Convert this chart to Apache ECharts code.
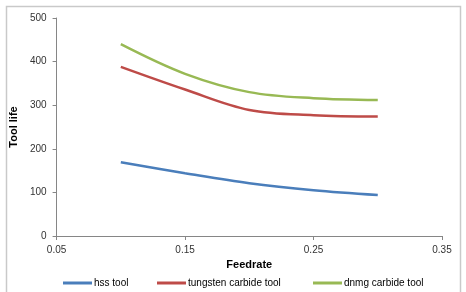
<!DOCTYPE html>
<html><head><meta charset="utf-8">
<script src="https://cdn.jsdelivr.net/npm/echarts@6/dist/echarts.min.js"></script>
<style>html,body{margin:0;padding:0;background:#fff}#c{width:466px;height:292px}</style>
</head><body><div id="c"></div>
<script>
const feedrate = [0.1, 0.15, 0.2, 0.25, 0.3];
const hss = [169, 144, 121, 105, 94];
const tungsten = [388, 336, 289, 277, 274];
const dnmg = [440, 372, 330, 316, 312];
const seriesNames = ['hss tool', 'tungsten carbide tool', 'dnmg carbide tool'];
const colors = ['#4A7EBB', '#BE4B48', '#98B954'];
const xTicks = [0.05, 0.15, 0.25, 0.35];
const yTicks = [0, 100, 200, 300, 400, 500];

const font = 'Liberation Sans, Arial, sans-serif';
const chart = echarts.init(document.getElementById('c'), null, {renderer: 'canvas'});
const mk = (name, vals, i) => ({
  name, type: 'line', smooth: 0.35, symbol: 'none',
  data: feedrate.map((x, k) => [x, vals[k]]),
  lineStyle: {color: colors[i], width: 2.5}, itemStyle: {color: colors[i]}
});
const legendLefts = [58, 152, 308];
chart.setOption({
  animation: false,
  grid: {left: 53, right: 24, top: 18, bottom: 56},
  xAxis: {
    type: 'value', min: xTicks[0], max: xTicks[xTicks.length - 1], interval: 0.1,
    name: 'Feedrate', nameLocation: 'middle', nameGap: 19,
    nameTextStyle: {fontFamily: font, fontWeight: 'bold', fontSize: 11, color: '#000'},
    axisLine: {lineStyle: {color: '#868686', width: 1}},
    axisTick: {show: true, length: 4, lineStyle: {color: '#868686'}},
    axisLabel: {fontFamily: font, fontSize: 10, color: '#333', margin: 9, formatter: v => v.toFixed(2)},
    splitLine: {show: false}
  },
  yAxis: {
    type: 'value', min: 0, max: 500, interval: 100,
    name: 'Tool life', nameLocation: 'middle', nameGap: 30, nameRotate: 90,
    nameTextStyle: {fontFamily: font, fontWeight: 'bold', fontSize: 11, color: '#000'},
    axisLine: {show: true, lineStyle: {color: '#868686', width: 1}},
    axisTick: {show: true, length: 4, lineStyle: {color: '#868686'}},
    axisLabel: {fontFamily: font, fontSize: 10, color: '#333', margin: 10},
    splitLine: {show: false}
  },
  legend: seriesNames.map((n, i) => ({
    data: [n], left: legendLefts[i], top: 273, icon: 'rect',
    itemWidth: 29, itemHeight: 3, itemGap: 2,
    textStyle: {fontFamily: font, fontSize: 10, color: '#000', padding: [0, 0, 0, -3]}
  })),
  graphic: [{type: 'rect', shape: {x: 6.5, y: 6.5, width: 454, height: 300},
    style: {fill: 'none', stroke: '#c9c9c9', lineWidth: 1.5}, silent: true}],
  series: [mk(seriesNames[0], hss, 0), mk(seriesNames[1], tungsten, 1), mk(seriesNames[2], dnmg, 2)]
});
</script></body></html>
